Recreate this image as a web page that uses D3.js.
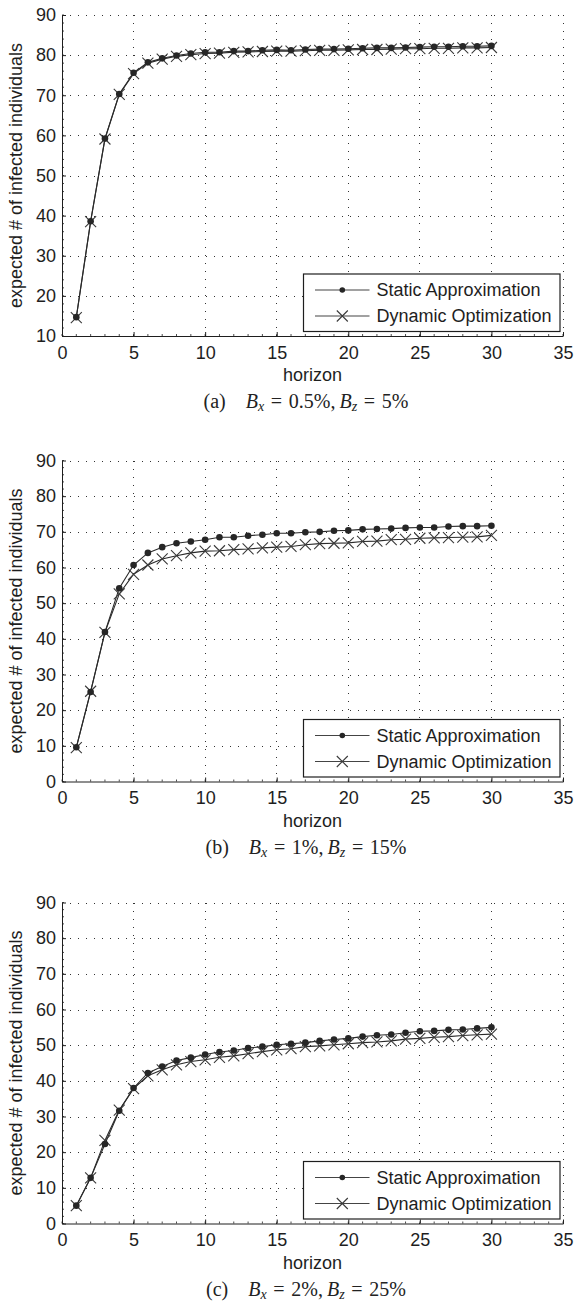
<!DOCTYPE html>
<html><head><meta charset="utf-8">
<script src="https://cdn.jsdelivr.net/npm/d3@7"></script>
<style>
html,body{margin:0;padding:0;background:#fff;}
svg{display:block;}
</style></head>
<body>
<svg id="chart" width="574" height="1303"></svg>
<script>
// ---- data ----
const horizon = d3.range(1, 31);
const xTicks = [0, 5, 10, 15, 20, 25, 30, 35];
const yTicksA = [10, 20, 30, 40, 50, 60, 70, 80, 90];
const yTicksBC = [0, 10, 20, 30, 40, 50, 60, 70, 80, 90];
const seriesNames = ["Static Approximation", "Dynamic Optimization"];

const staticA = [14.7, 38.6, 59.2, 70.3, 75.6, 78.2, 79.2, 79.9, 80.4, 80.7, 80.7, 81.0, 81.0, 81.2, 81.3, 81.2, 81.4, 81.5, 81.5, 81.6, 81.7, 81.8, 81.8, 81.9, 82.0, 82.1, 82.1, 82.2, 82.2, 82.3];
const dynamicA = [14.6, 38.5, 59.1, 70.2, 75.4, 78.0, 79.0, 79.7, 80.1, 80.4, 80.5, 80.7, 80.8, 80.9, 81.0, 81.0, 81.1, 81.2, 81.2, 81.3, 81.4, 81.4, 81.5, 81.6, 81.6, 81.7, 81.7, 81.8, 81.8, 81.9];

const staticB = [9.6, 25.1, 41.9, 54.2, 60.7, 64.1, 65.7, 66.8, 67.3, 67.8, 68.5, 68.5, 68.9, 69.2, 69.6, 69.6, 69.9, 70.0, 70.3, 70.4, 70.7, 70.8, 70.9, 71.1, 71.2, 71.2, 71.5, 71.6, 71.6, 71.7];
const dynamicB = [9.5, 25.3, 41.8, 52.6, 58.1, 60.7, 62.4, 63.3, 64.1, 64.6, 64.7, 65.0, 65.2, 65.5, 65.7, 65.9, 66.4, 66.7, 66.8, 66.9, 67.3, 67.4, 67.8, 67.9, 68.2, 68.3, 68.4, 68.5, 68.6, 69.0];

const staticC = [5.0, 12.8, 22.3, 31.6, 38.0, 42.2, 44.0, 45.7, 46.5, 47.4, 48.1, 48.5, 49.2, 49.6, 50.1, 50.4, 50.7, 51.2, 51.6, 51.9, 52.4, 52.8, 53.0, 53.5, 53.9, 54.0, 54.3, 54.4, 54.7, 55.0];
const dynamicC = [5.0, 12.8, 23.3, 31.8, 37.8, 41.4, 43.1, 44.5, 45.4, 45.9, 46.6, 47.0, 47.6, 48.2, 48.7, 49.0, 49.6, 49.8, 50.1, 50.4, 50.7, 50.9, 51.2, 51.7, 51.9, 52.2, 52.4, 52.7, 52.9, 53.1];

const captionLetters = ["a", "b", "c"];
const captionBx = ["0.5%", "1%", "2%"];
const captionBz = ["5%", "15%", "25%"];

// ---- layout ----
const svg = d3.select("#chart");
const left = 62, right = 563;
const panels = [
  {top: 15, bottom: 336, yDomain: [10, 90], yTicks: yTicksA, s: staticA, d: dynamicA},
  {top: 460.5, bottom: 781.5, yDomain: [0, 90], yTicks: yTicksBC, s: staticB, d: dynamicB},
  {top: 902.5, bottom: 1223.5, yDomain: [0, 90], yTicks: yTicksBC, s: staticC, d: dynamicC}
];
const ink = "#1e1e1e";
const sans = "'Liberation Sans', Arial, Helvetica, sans-serif";
const serif = "'Liberation Serif', 'Times New Roman', serif";

const x = d3.scaleLinear().domain([0, 35]).range([left, right]);
const crossPath = s => `M${-s},${-s}L${s},${s}M${-s},${s}L${s},${-s}`;

panels.forEach((p, i) => {
  const y = d3.scaleLinear().domain(p.yDomain).range([p.bottom, p.top]);
  const g = svg.append("g");

  // grid
  g.append("g").selectAll("line").data(xTicks.filter(t => t > 0)).join("line")
    .attr("x1", d => x(d)).attr("x2", d => x(d))
    .attr("y1", p.bottom).attr("y2", p.top)
    .attr("stroke", "#333").attr("stroke-width", 1)
    .attr("stroke-dasharray", "1,7").attr("shape-rendering", "crispEdges");
  g.append("g").selectAll("line").data(p.yTicks.filter(t => t > p.yDomain[0])).join("line")
    .attr("y1", d => Math.round(y(d)) + 0.5).attr("y2", d => Math.round(y(d)) + 0.5)
    .attr("x1", left).attr("x2", right)
    .attr("stroke", "#333").attr("stroke-width", 1)
    .attr("stroke-dasharray", "1,7");

  // axes
  const xAxis = d3.axisBottom(x).tickValues(xTicks).tickSize(-4).tickPadding(10).tickSizeOuter(0);
  const gx = g.append("g").attr("transform", `translate(0,${p.bottom})`).call(xAxis);
  gx.select(".domain").attr("stroke", ink);
  gx.selectAll(".tick line").attr("stroke", ink);
  gx.selectAll("text").attr("font-family", sans).attr("font-size", 18).attr("fill", ink).attr("dy", "0.71em");

  const yAxis = d3.axisLeft(y).tickValues(p.yTicks).tickSize(-4).tickPadding(6).tickSizeOuter(0);
  const gy = g.append("g").attr("transform", `translate(${left},0)`).call(yAxis);
  gy.select(".domain").attr("stroke", ink);
  gy.selectAll(".tick line").attr("stroke", ink);
  gy.selectAll("text").attr("font-family", sans).attr("font-size", 18).attr("fill", ink);

  // minor ticks
  g.append("g").selectAll("line").data(d3.range(0, 35.01, 1)).join("line")
    .attr("x1", d => x(d)).attr("x2", d => x(d))
    .attr("y1", p.bottom).attr("y2", p.bottom - 2)
    .attr("stroke", ink).attr("stroke-width", 0.8);
  g.append("g").selectAll("line").data(d3.range(p.yDomain[0], 90.01, 2)).join("line")
    .attr("y1", d => y(d)).attr("y2", d => y(d))
    .attr("x1", left).attr("x2", left + 2)
    .attr("stroke", ink).attr("stroke-width", 0.8);

  // axis labels
  g.append("text").attr("x", (left + right) / 2).attr("y", p.bottom + 45)
    .attr("text-anchor", "middle").attr("font-family", sans).attr("font-size", 18)
    .attr("fill", ink).text("horizon");
  g.append("text").attr("transform", `translate(21.5,${(p.top + p.bottom) / 2}) rotate(-90)`)
    .attr("text-anchor", "middle").attr("font-family", sans).attr("font-size", 18)
    .attr("fill", ink).text("expected # of infected individuals");

  // lines
  const line = vals => d3.line().x((d, k) => x(horizon[k])).y(d => y(d))(vals);
  g.append("path").attr("d", line(p.d)).attr("fill", "none").attr("stroke", "#2a2a2a").attr("stroke-width", 1.1);
  g.append("path").attr("d", line(p.s)).attr("fill", "none").attr("stroke", "#2a2a2a").attr("stroke-width", 1.1);

  g.append("g").selectAll("path").data(p.d).join("path")
    .attr("transform", (d, k) => `translate(${x(horizon[k])},${y(d)})`)
    .attr("d", crossPath(5.5)).attr("stroke", "#3a3a3a").attr("stroke-width", 1.1).attr("fill", "none");
  g.append("g").selectAll("circle").data(p.s).join("circle")
    .attr("cx", (d, k) => x(horizon[k])).attr("cy", d => y(d)).attr("r", 3.3).attr("fill", "#262626");

  // legend
  const lx0 = 303.5, lx1 = 560, ly0 = p.bottom - 62, ly1 = p.bottom - 4.5;
  const lg = g.append("g");
  lg.append("rect").attr("x", lx0).attr("y", ly0).attr("width", lx1 - lx0).attr("height", ly1 - ly0)
    .attr("fill", "#fff").attr("stroke", ink).attr("stroke-width", 1.2);
  const rows = [p.bottom - 46, p.bottom - 20];
  rows.forEach((ry, r) => {
    lg.append("line").attr("x1", 315).attr("x2", 369.5).attr("y1", ry).attr("y2", ry)
      .attr("stroke", "#444").attr("stroke-width", 1.1);
    if (r === 0) {
      lg.append("circle").attr("cx", 342.3).attr("cy", ry).attr("r", 2.8).attr("fill", "#262626");
    } else {
      lg.append("path").attr("transform", `translate(342.3,${ry})`).attr("d", crossPath(5.5))
        .attr("stroke", "#3a3a3a").attr("stroke-width", 1.1).attr("fill", "none");
    }
    lg.append("text").attr("x", 376.5).attr("y", ry).attr("dy", "0.35em")
      .attr("font-family", sans).attr("font-size", 18).attr("fill", ink).text(seriesNames[r]);
  });

  // caption
  const cap = g.append("text").attr("x", 306).attr("y", p.bottom + 72)
    .attr("text-anchor", "middle").attr("font-family", serif).attr("font-size", 20)
    .attr("fill", "#222");
  cap.append("tspan").text(`(${captionLetters[i]})\u2003`);
  cap.append("tspan").attr("font-style", "italic").text("B");
  cap.append("tspan").attr("font-style", "italic").attr("font-size", 14).attr("dy", 3).text("x");
  cap.append("tspan").attr("dy", -3).text(`\u2004=\u2004${captionBx[i]},\u2009`);
  cap.append("tspan").attr("font-style", "italic").text("B");
  cap.append("tspan").attr("font-style", "italic").attr("font-size", 14).attr("dy", 3).text("z");
  cap.append("tspan").attr("dy", -3).text(`\u2004=\u2004${captionBz[i]}`);
});
</script>
</body></html>
